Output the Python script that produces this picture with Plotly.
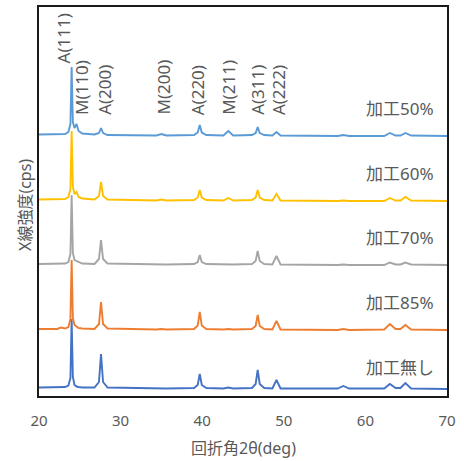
import plotly.graph_objects as go

# ---- data -------------------------------------------------------------
two_theta = [20.0, 22.2, 22.7, 23.2, 23.6, 23.85, 24.0, 24.15, 24.35, 24.6, 24.85, 25.3,
             26.8, 27.35, 27.6, 27.85, 28.4, 34.4, 35.0, 35.6, 39.0, 39.45, 39.7, 39.95,
             40.5, 42.6, 43.2, 43.8, 46.1, 46.55, 46.8, 47.05, 47.6, 48.6, 49.1, 49.6,
             56.6, 57.3, 58.0, 62.3, 63.0, 63.7, 64.3, 64.9, 65.6, 70.0]

series_names = ["加工無し", "加工85%", "加工70%", "加工60%", "加工50%"]

int_none = [1.5, 1.5, 1.5, 2, 3.5, 11, 70, 12, 4, 2.5, 2, 1.5,
            1.5, 7, 35, 7, 1.5, 0.5, 1, 0.5, 1, 4, 15, 4,
            1, 0.5, 1.5, 0.5, 1, 5, 19, 5, 1, 0.5, 9, 0.5,
            0.5, 3, 0.5, 0.5, 5, 1, 1, 6, 0.5, 0]
int_85 = [1, 1, 2.5, 1.5, 3, 11, 70, 12, 5, 3, 2, 1.5,
          1, 6, 28, 6, 1.5, 0.5, 1, 0.5, 1, 4.5, 18, 4.5,
          1, 0.5, 1, 0.5, 1, 4, 15, 4, 1, 0.5, 9, 0.5,
          0, 1, 0, 0.5, 6, 1, 1, 5, 0.5, 0]
int_70 = [1, 1, 1, 1.5, 3, 11, 70, 12, 5, 4, 2.5, 1.5,
          1, 6, 25, 6, 1.5, 0.5, 1, 0.5, 1, 3, 10, 3,
          1, 0.5, 1, 0.5, 1, 4, 14, 4, 1, 0.5, 9, 0.5,
          0, 0.5, 0, 0, 2.5, 0.5, 0.5, 2.5, 0.5, 0]
int_60 = [1.5, 1.5, 1.5, 2, 4, 12, 70, 14, 7, 9, 4, 2.5,
          1.5, 5, 19, 5, 1.5, 0.5, 1.5, 0.5, 1, 3.5, 11, 3.5,
          1, 0.5, 3, 0.5, 1, 3.5, 11, 3.5, 1, 0.5, 7, 0.5,
          0, 0.5, 0, 0, 3, 0.5, 0.5, 4, 0.5, 0]
int_50 = [1.5, 1.5, 1.5, 2, 4, 12, 69, 14, 8, 12, 5, 2.5,
          1.5, 3, 8, 3, 1, 0.5, 2, 0.5, 1, 3.5, 11, 3.5,
          1, 0.5, 5, 0.5, 1, 3, 9, 3, 1, 0.5, 4, 0.5,
          0, 1, 0, 0, 3, 0.5, 0.5, 3, 0.5, 0]
intensities = [int_none, int_85, int_70, int_60, int_50]
offsets = [7, 66, 131, 195, 260]

peak_labels = ["A(111)", "M(110)", "A(200)", "M(200)", "A(220)", "M(211)", "A(311)", "A(222)"]
peak_label_x = [23.0, 25.2, 27.95, 35.2, 39.4, 43.2, 46.7, 49.3]
peak_label_base = [331, 279, 279, 279, 279, 279, 279, 279]

x_ticks = [20, 30, 40, 50, 60, 70]
x_title = "回折角2θ(deg)"
y_title = "X線強度(cps)"

# ---- styling ----------------------------------------------------------
colors = ["#4472C4", "#ED7D31", "#A5A5A5", "#FFC000", "#5B9BD5"]
label_dy = [22, 28, 28, 28, 28]
FONT = "Noto Sans, Noto Sans CJK JP"
TXT = "#595959"

fig = go.Figure()
for name, ys, off, col in zip(series_names, intensities, offsets, colors):
    fig.add_trace(go.Scatter(
        x=two_theta, y=[v + off for v in ys], mode="lines", name=name,
        line=dict(color=col, width=1.9), showlegend=False))

annotations = []
for lab, lx, lb in zip(peak_labels, peak_label_x, peak_label_base):
    annotations.append(dict(x=lx, y=lb, xref="x", yref="y", text=lab, textangle=-90,
                            showarrow=False, xanchor="center", yanchor="bottom",
                            font=dict(family=FONT, size=17, color=TXT)))
for name, off, dy in zip(series_names, offsets, label_dy):
    annotations.append(dict(x=68.6, y=off + dy, xref="x", yref="y", text=name,
                            showarrow=False, xanchor="right", yanchor="middle",
                            font=dict(family=FONT, size=17, color=TXT)))
annotations.append(dict(x=243, y=448, text=x_title, showarrow=False,
                        font=dict(family=FONT, size=16, color=TXT)))
annotations.append(dict(x=25, y=205, text=y_title, textangle=-90, showarrow=False,
                        font=dict(family=FONT, size=16, color=TXT)))

# convert pixel positions of the two title annotations into paper fractions
L, R, T, B = 39, 17, 7, 65
W, H = 464, 461
pw, ph = W - L - R, H - T - B
for a in annotations[-2:]:
    a["xref"], a["yref"] = "paper", "paper"
    a["x"] = (a["x"] - L) / pw
    a["y"] = (H - B - a["y"]) / ph
    a["xanchor"], a["yanchor"] = "center", "middle"

fig.update_layout(
    width=W, height=H,
    margin=dict(l=L, r=R, t=T, b=B, autoexpand=False),
    paper_bgcolor="white", plot_bgcolor="white",
    font=dict(family=FONT, color=TXT),
    annotations=annotations,
    xaxis=dict(range=[20, 70], tickvals=x_ticks, ticks="", showgrid=False, zeroline=False,
               showline=True, linecolor="#1a1a1a", linewidth=1.5, mirror=True,
               automargin=False, ticklabelstandoff=10,
               tickfont=dict(family=FONT, size=15, color=TXT)),
    yaxis=dict(range=[0, 389], showticklabels=False, ticks="", showgrid=False, zeroline=False,
               showline=True, linecolor="#1a1a1a", linewidth=1.5, mirror=True,
               automargin=False),
)

fig.write_html("out.html", config={"displayModeBar": False},
               post_script="document.body.style.margin='0';")
